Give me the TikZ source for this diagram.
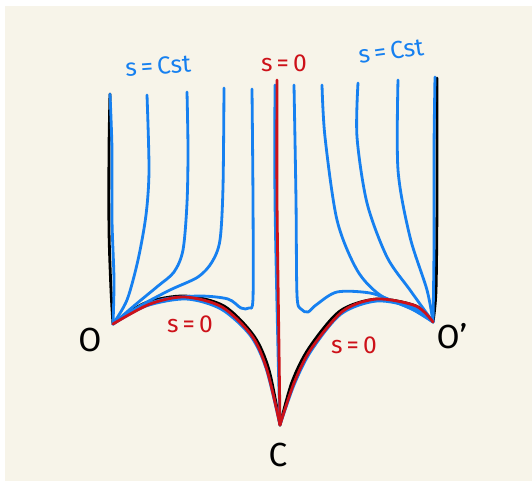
\documentclass[tikz,border=0pt]{standalone}
\usepackage{fontspec}
\setmainfont{Fira Sans}
\usetikzlibrary{positioning}

\definecolor{paper}{RGB}{247,244,233}
\definecolor{penblue}{RGB}{22,128,240}
\definecolor{penred}{RGB}{205,17,25}

\begin{document}
\begin{tikzpicture}[
    x=0.02cm, y=-0.02cm,
    pen/.style={line width=1.6pt, line cap=round, line join=round},
    level/.style={pen, draw=penblue},
    front/.style={pen, draw=penred},
    rim/.style={pen, draw=black},
    bluetag/.style={text=penblue, font=\fontsize{14}{16}\selectfont},
    redtag/.style={text=penred, font=\fontsize{14}{16}\selectfont},
    pointtag/.style={font=\fontsize{19}{21}\selectfont},
]
    \useasboundingbox (0,0) rectangle (532,481);
    \fill[paper] (5,6) rectangle (532,481);

    \coordinate (O) at (113,324);
    \coordinate (C) at (280,425);
    \coordinate (Op) at (433,322);
    \coordinate (Ltop) at (110,94);
    \coordinate (Mtop) at (277,80);
    \coordinate (Rtop) at (435,77);

    \draw[rim] plot[smooth] coordinates {(Ltop) (109,150) (109,230) (111,290) (O)};
    \draw[rim] plot[smooth] coordinates {(437,78) (437,200) (436,290) (Op)};
    \draw[rim] plot[smooth] coordinates {(O) (145,303) (185,296) (224,306) (254,336) (269,370) (C)};
    \draw[rim] plot[smooth] coordinates {(C) (292,382) (309,348) (340,311) (377,299) (416,306) (Op)};

    \draw[level] plot[smooth] coordinates {(Ltop) (112,150) (112,220) (114,280) (O)};
    \draw[level] plot[smooth] coordinates {(147,95) (149,170) (146,215) (138,260) (127,300) (O)};
    \draw[level] plot[smooth] coordinates {(187,92) (188,150) (187,203) (183,250) (174,272) (158,286) (135,305) (O)};
    \draw[level] plot[smooth] coordinates {(224,88) (223,187) (220,240) (212,262) (198,277) (170,290) (140,306) (O)};
    \draw[level] plot[smooth] coordinates {(252,89) (253,200) (253,298) (249,308) (241,308) (228,299) (200,296) (165,299) (138,308) (O)};
    \draw[level] plot[smooth] coordinates {(O) (146,306) (186,299) (221,309) (250,335) (266,368) (C)};
    \draw[level] plot[smooth] coordinates {(275,85) (275,200) (278,350) (C)};

    \draw[level] plot[smooth] coordinates {(294,85) (296,200) (297,295) (301,309) (308,312) (316,305) (337,292) (370,293) (395,302) (418,312) (Op)};
    \draw[level] plot[smooth] coordinates {(322,85) (325,137) (337,220) (357,270) (380,295) (410,308) (Op)};
    \draw[level] plot[smooth] coordinates {(358,83) (357,137) (367,203) (387,257) (410,290) (Op)};
    \draw[level] plot[smooth] coordinates {(398,80) (398,170) (410,237) (427,290) (Op)};
    \draw[level] plot[smooth] coordinates {(Rtop) (434,150) (434,250) (Op)};
    \draw[level] plot[smooth] coordinates {(C) (294,385) (311,351) (341,314) (377,301) (415,308) (Op)};

    \draw[front] plot[smooth] coordinates {(Mtop) (277,200) (279,350) (C)};
    \draw[front] plot[smooth] coordinates {(O) (150,304) (185,297) (222,307) (252,336) (267,370) (C)};
    \draw[front] plot[smooth] coordinates {(C) (294,383) (311,349) (343,311) (377,299) (416,306) (Op)};

    \node[bluetag, rotate=4] (cstL) at (158,66) {s\,=\,Cst};
    \node[redtag] (zeroTop) at (284,63) {s\,=\,0};
    \node[bluetag, rotate=8] (cstR) at (391,51) {s\,=\,Cst};
    \node[redtag] (zeroL) at (190,324) {s\,=\,0};
    \node[redtag] (zeroR) at (354,345) {s\,=\,0};

    \node[pointtag] (labO) at (90,340) {O};
    \node[pointtag] (labC) at (278,455) {C};
    \node[pointtag] (labOp) at (452,336) {O'};
\end{tikzpicture}
\end{document}
